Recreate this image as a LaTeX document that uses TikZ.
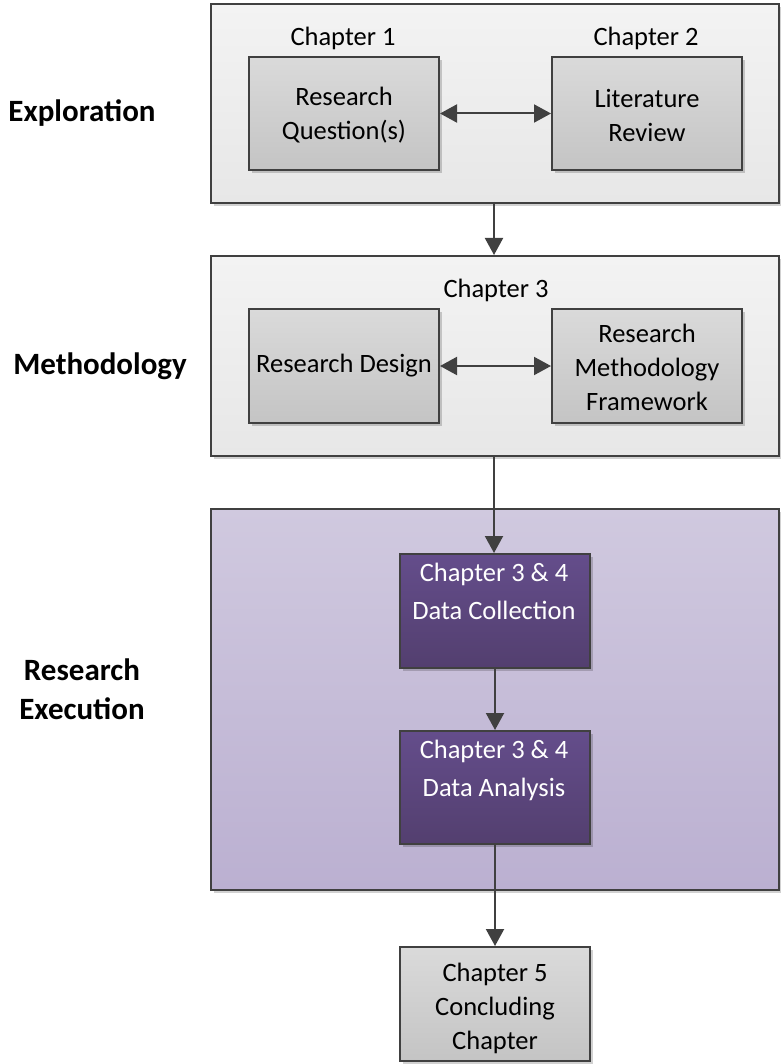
\documentclass[tikz,border=0pt]{standalone}
\usepackage{fontspec}
\setmainfont{Carlito}
\usetikzlibrary{arrows.meta,shadows}
\definecolor{edge}{HTML}{404040}
\definecolor{outerA}{HTML}{F3F3F3}
\definecolor{outerB}{HTML}{E7E7E7}
\definecolor{grayA}{HTML}{DADADA}
\definecolor{grayB}{HTML}{C4C4C4}
\definecolor{lilacA}{HTML}{D0C9DF}
\definecolor{lilacB}{HTML}{BBB0D1}
\definecolor{purpA}{HTML}{644D8B}
\definecolor{purpB}{HTML}{533F6F}
\tikzset{
  box/.style={draw=edge, line width=2pt, inner sep=0pt, anchor=north west,
    drop shadow={shadow xshift=3pt, shadow yshift=-3pt, opacity=0.18, fill=black}},
  outerbox/.style={box, top color=outerA, bottom color=outerB},
  graybox/.style={box, top color=grayA, bottom color=grayB},
  lilacbox/.style={box, top color=lilacA, bottom color=lilacB},
  purpbox/.style={box, top color=purpA, bottom color=purpB},
  boxtext/.style={font=\fontsize{26.5}{34}\selectfont, align=center, inner sep=0pt},
  purptext/.style={font=\fontsize{26.5}{38}\selectfont, align=center, inner sep=0pt, text=white, anchor=base},
  caption/.style={font=\fontsize{26.5}{32}\selectfont, anchor=base, inner sep=0pt},
  side/.style={font=\bfseries\fontsize{31}{39}\selectfont, align=center, anchor=base, inner sep=0pt},
  arr/.style={draw=edge, line width=2pt, -{Triangle[length=17pt,width=18pt]}},
  darr/.style={draw=edge, line width=2pt, {Triangle[length=17pt,width=18pt]}-{Triangle[length=17pt,width=18pt]}}
}
\begin{document}
\begin{tikzpicture}[x=1pt,y=-1pt]
\useasboundingbox (0,0) rectangle (780,1064);
% outer boxes
\node[outerbox, minimum width=568pt, minimum height=199pt] (expl) at (210,3) {};
\node[outerbox, minimum width=568pt, minimum height=200pt] (meth) at (210,255) {};
\node[lilacbox, minimum width=568pt, minimum height=381pt] (exec) at (210,508) {};
% exploration
\node[caption] (c1) at (343,46) {Chapter 1};
\node[caption] (c2) at (646,46) {Chapter 2};
\node[graybox, minimum width=190pt, minimum height=113pt] (rq) at (248,56) {};
\node[graybox, minimum width=190pt, minimum height=113pt] (lr) at (551,56) {};
% methodology
\node[caption] (c3) at (496,298) {Chapter 3};
\node[graybox, minimum width=190pt, minimum height=114pt] (rd) at (248,308) {};
\node[graybox, minimum width=190pt, minimum height=114pt] (rmf) at (551,308) {};
% execution
\node[purpbox, minimum width=190pt, minimum height=114pt] (dc) at (399,553) {};
\node[purpbox, minimum width=190pt, minimum height=113pt] (da) at (399,730) {};
% conclusion
\node[graybox, minimum width=190pt, minimum height=114pt] (cc) at (399,946) {};
% texts
\node[boxtext] (rqtx) at ([yshift=-1.5pt]rq.center) {Research\\Question(s)};
\node[boxtext] (lrtx) at ([yshift=-1.5pt]lr.center) {Literature\\Review};
\node[boxtext] (rdtx) at (rd.center) {Research Design};
\node[boxtext] (rmftx) at ([yshift=-1pt]rmf.center) {Research\\Methodology\\Framework};
\node[purptext] (dctx) at (494,619) {Chapter 3 \& 4\\Data Collection};
\node[purptext] (datx) at (494,796) {Chapter 3 \& 4\\Data Analysis};
\node[boxtext] (cctx) at ([yshift=-4pt]cc.center) {Chapter 5\\Concluding\\Chapter};
% side labels
\node[side] (l1) at (82,122) {Exploration};
\node[side] (l2) at (100,374) {Methodology};
\node[side] (l3) at (82,719) {Research\\Execution};
% connectors
\draw[darr] (rq.east) -- (lr.west);
\draw[darr] (rd.east) -- (rmf.west);
\coordinate (a1) at (494,202);
\draw[arr] (a1) -- (a1 |- meth.north);
\coordinate (a2) at (494,455);
\draw[arr] (a2) -- (a2 |- dc.north);
\draw[arr] (dc.south) -- (da.north);
\draw[arr] (da.south) -- (cc.north);
\end{tikzpicture}
\end{document}
